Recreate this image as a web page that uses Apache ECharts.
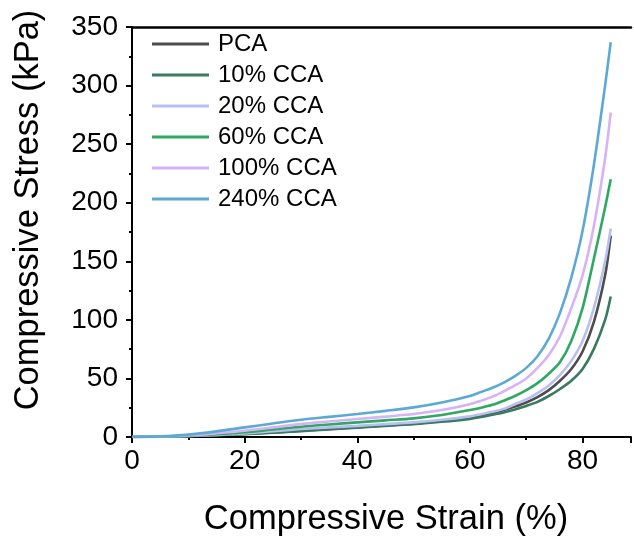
<!DOCTYPE html>
<html>
<head>
<meta charset="utf-8">
<script src="https://cdn.jsdelivr.net/npm/echarts@6/dist/echarts.min.js"></script>
<style>
html,body{margin:0;padding:0;background:#fff;}
#c{width:634px;height:542px;}
</style>
</head>
<body>
<div id="c"></div>
<script>
const seriesNames = ['PCA', '10% CCA', '20% CCA', '60% CCA', '100% CCA', '240% CCA'];
const seriesColors = ['#4d4d4d', '#3a7a5e', '#b9bff2', '#2fa862', '#d8b2f6', '#5ba9d4'];

// strain (%) sample positions shared by all series
const strain = [0, 5, 10, 15, 20, 25, 30, 35, 40, 45, 50, 55, 60,
                62, 64, 66, 68, 70, 72, 74, 76, 78, 80, 82, 84, 85];

const stressPCA = [0, 0.3, 0.8, 1.6, 2.6, 3.9, 5.3, 6.8, 8.3, 9.8, 11.3, 13.6, 16.5,
                   18.5, 20.5, 23, 26, 29.5, 34, 40, 48, 58, 73, 98, 138, 172];
const stress10  = [0, 0.3, 0.8, 1.5, 2.4, 3.7, 5.0, 6.5, 8.0, 9.5, 11.0, 13.0, 15.5,
                   17, 19, 21, 23.5, 26.5, 30, 35, 41, 48, 58, 75, 100, 120];
const stress20  = [0, 0.3, 0.9, 1.8, 3.0, 4.9, 6.8, 8.2, 9.5, 11.0, 12.5, 14.7, 17.6,
                   19.5, 21.5, 24, 28, 32, 37.5, 44, 53, 65, 82, 110, 150, 178];
const stress60  = [0, 0.3, 1.0, 2.3, 4.0, 6.4, 8.8, 10.7, 12.5, 14.2, 15.9, 18.8, 23,
                   25, 27.5, 31, 35, 40, 46, 54, 64, 82, 110, 152, 196, 220];
const stress100 = [0, 0.4, 1.3, 3.2, 5.4, 8.2, 11, 13.2, 15.3, 17.4, 19.6, 23, 28,
                   31, 34.5, 39, 44, 50, 59, 70, 86, 110, 138, 180, 238, 277];
const stress240 = [0, 0.5, 2.0, 4.8, 8.2, 11.5, 14.7, 17.2, 19.6, 22.3, 25.3, 29.5, 35,
                   38.5, 42, 46.5, 52, 59, 69, 84, 106, 136, 176, 232, 300, 337];

const stresses = [stressPCA, stress10, stress20, stress60, stress100, stress240];

const xTicks = [0, 20, 40, 60, 80];
const yTicks = [0, 50, 100, 150, 200, 250, 300, 350];

const font = 'Liberation Sans, Arial, sans-serif';
const chart = echarts.init(document.getElementById('c'), null, {renderer: 'canvas'});

const series = seriesNames.map((name, i) => ({
  name: name,
  type: 'line',
  smooth: 0.3,
  symbol: 'none',
  data: strain.map((x, j) => [x, stresses[i][j]]),
  lineStyle: {color: seriesColors[i], width: 2.6},
  itemStyle: {color: seriesColors[i]},
  z: 2 + i
}));

chart.setOption({
  animation: false,
  backgroundColor: '#fff',
  grid: {left: 132, top: 27, right: 0, bottom: 104, containLabel: false},
  legend: {
    orient: 'vertical', left: 147, top: 27,
    icon: 'rect', itemWidth: 57, itemHeight: 3, itemGap: 7,
    data: seriesNames,
    textStyle: {fontFamily: font, fontSize: 24, color: '#000', lineHeight: 24, padding: [0,0,0,4]}
  },
  xAxis: [{
    type: 'value', min: 0, max: 88.6, interval: 20,
    name: 'Compressive Strain (%)', nameLocation: 'middle', nameGap: 65,
    nameTextStyle: {fontFamily: font, fontSize: 34.5, color: '#000', padding: [0,0,0,9]},
    axisLine: {show: true, onZero: false, lineStyle: {color: '#000', width: 2}},
    axisTick: {show: true, length: 6, lineStyle: {color: '#000', width: 2}},
    minorTick: {show: true, splitNumber: 2, length: 3, lineStyle: {color: '#000', width: 2}},
    axisLabel: {fontFamily: font, fontSize: 28, color: '#000', margin: 10,
      formatter: v => xTicks.includes(v) ? String(v) : ''},
    splitLine: {show: false}
  }, {
    type: 'value', min: 0, max: 88.6, position: 'top',
    axisLine: {show: true, onZero: false, lineStyle: {color: '#000', width: 2.5}},
    axisTick: {show: false}, axisLabel: {show: false}, splitLine: {show: false}
  }],
  yAxis: {
    type: 'value', min: 0, max: 350, interval: 50,
    name: 'Compressive Stress (kPa)', nameLocation: 'middle', nameGap: 86,
    nameTextStyle: {fontFamily: font, fontSize: 34.5, color: '#000', padding: [0,0,0,44]},
    axisLine: {show: true, onZero: false, lineStyle: {color: '#000', width: 2}},
    axisTick: {show: true, length: 6, lineStyle: {color: '#000', width: 2}},
    minorTick: {show: true, splitNumber: 2, length: 3, lineStyle: {color: '#000', width: 2}},
    axisLabel: {fontFamily: font, fontSize: 28, color: '#000', margin: 14,
      formatter: v => yTicks.includes(v) ? String(v) : ''},
    splitLine: {show: false}
  },
  series: series
});
</script>
</body>
</html>
